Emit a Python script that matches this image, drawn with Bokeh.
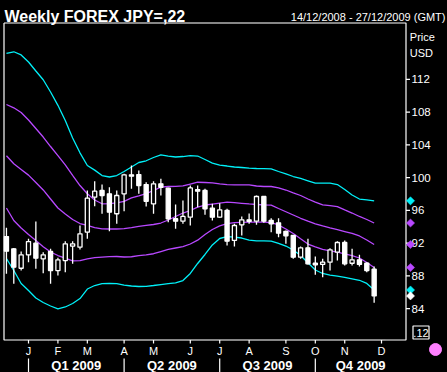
import pandas as pd
from bokeh.plotting import figure
from bokeh.models import Range1d, ColumnDataSource, GlobalInlineStyleSheet
from bokeh.core.properties import value
from bokeh.embed import file_html
from bokeh.resources import INLINE

# ---------------- data ----------------
origin = pd.Timestamp("2008-12-14")
week_dates = [d.strftime("%Y-%m-%d") for d in pd.date_range("2008-12-17", periods=51, freq="7D")]

open_ = [92.80, 91.30, 88.93, 90.57, 91.99, 90.08, 90.97, 88.65, 89.87, 91.62,
         91.50, 93.33, 97.60, 98.42, 98.02, 95.58, 98.02, 100.34, 100.37, 99.15,
         96.80, 99.24, 98.70, 94.97, 94.67, 95.16, 98.54, 98.42, 96.26, 95.16,
         95.98, 92.32, 94.23, 94.84, 94.67, 97.69, 94.76, 94.48, 93.44, 92.93,
         90.28, 91.42, 89.54, 89.39, 89.67, 90.89, 92.07, 89.54, 89.96, 89.54,
         88.81]
high = [93.87, 91.40, 90.97, 92.52, 94.64, 90.89, 91.30, 90.21, 92.23, 92.23,
        94.15, 98.42, 99.56, 99.15, 98.82, 98.42, 100.46, 101.47, 100.86, 99.43,
        99.56, 99.85, 98.75, 96.71, 97.20, 99.03, 99.03, 98.63, 96.80, 96.87,
        96.19, 94.36, 95.25, 95.61, 97.81, 97.75, 95.04, 95.04, 93.54, 93.00,
        91.58, 92.52, 90.36, 90.08, 91.38, 92.23, 92.32, 91.30, 90.57, 89.67,
        89.13]
low = [88.25, 87.03, 88.65, 89.67, 88.86, 88.32, 87.03, 88.04, 88.45, 89.47,
       91.22, 92.52, 96.50, 95.58, 93.45, 94.36, 95.89, 98.63, 98.02, 96.47,
       95.58, 97.81, 94.55, 93.74, 94.36, 94.15, 96.38, 95.45, 94.76, 95.10,
       91.71, 91.58, 92.93, 94.36, 94.23, 94.48, 93.33, 92.72, 91.91, 90.08,
       90.08, 89.40, 88.13, 87.84, 88.65, 89.87, 89.26, 89.26, 89.14, 88.45,
       84.73]
close = [91.01, 89.06, 90.57, 92.19, 90.16, 90.57, 88.65, 89.96, 91.91, 91.91,
         93.13, 97.48, 98.34, 97.81, 95.77, 97.81, 100.34, 100.17, 99.03, 97.11,
         99.24, 98.82, 94.97, 94.67, 95.25, 98.73, 98.34, 96.19, 95.16, 96.06,
         92.23, 94.15, 94.84, 94.64, 97.69, 94.67, 94.36, 93.21, 92.89, 90.28,
         91.42, 89.47, 89.35, 89.67, 91.18, 92.07, 89.47, 89.96, 89.39, 88.65,
         85.55]

band_upper2 = [115.15, 115.36, 114.97, 114.11, 113.01, 111.94, 110.45, 108.82, 106.97, 104.83,
               103.02, 101.47, 100.91, 100.25, 100.07, 100.25, 100.74, 101.29, 101.84, 102.05,
               102.45, 102.78, 102.63, 102.51, 102.57, 102.69, 102.63, 102.21, 101.77, 101.51,
               101.41, 101.29, 101.23, 101.16, 101.11, 101.08, 101.05, 100.74, 100.44, 100.13,
               99.89, 99.61, 99.31, 99.31, 99.31, 99.15, 98.54, 97.87, 97.38, 97.28,
               97.16]
band_upper1 = [108.92, 108.52, 107.94, 107.03, 105.99, 104.95, 103.79, 102.69, 101.56, 100.28,
               99.03, 98.02, 97.26, 96.80, 96.83, 96.92, 97.10, 97.51, 97.77, 98.05,
               98.42, 98.84, 98.91, 98.93, 98.99, 99.21, 99.43, 99.40, 99.34, 99.23,
               99.15, 99.12, 99.12, 99.12, 98.97, 98.91, 98.91, 98.74, 98.48, 98.13,
               97.81, 97.38, 96.99, 96.67, 96.57, 96.46, 96.06, 95.67, 95.25, 94.88,
               94.45]
band_middle = [102.66, 101.68, 100.99, 100.30, 99.40, 98.49, 97.38, 96.28, 95.55, 94.88,
               94.39, 94.15, 93.90, 93.74, 93.72, 93.72, 93.76, 93.88, 94.03, 94.15,
               94.27, 94.45, 94.82, 95.25, 95.67, 95.98, 96.39, 96.65, 96.77, 96.89,
               96.99, 96.93, 96.86, 96.78, 96.71, 96.67, 96.64, 96.22, 95.83, 95.43,
               95.03, 94.67, 94.36, 94.09, 93.85, 93.63, 93.41, 93.19, 92.87, 92.38,
               91.83]
band_lower1 = [96.28, 94.76, 93.84, 93.05, 92.32, 91.56, 90.91, 90.48, 90.17, 89.84,
               89.85, 90.08, 90.22, 90.29, 90.34, 90.36, 90.30, 90.33, 90.46, 90.55,
               90.70, 90.97, 91.22, 91.40, 91.58, 91.89, 92.36, 93.05, 93.66, 94.10,
               94.37, 94.51, 94.53, 94.55, 94.55, 94.55, 94.51, 94.21, 93.72, 93.17,
               92.52, 91.88, 91.55, 91.24, 91.06, 90.89, 90.69, 90.48, 90.18, 89.63,
               89.02]
band_lower2 = [90.12, 88.65, 87.07, 86.21, 85.30, 84.75, 84.32, 83.98, 84.20, 84.62,
               85.23, 86.39, 86.82, 87.04, 87.09, 87.04, 86.88, 86.76, 86.70, 86.72,
               86.82, 86.94, 87.04, 87.13, 87.43, 88.29, 89.51, 90.61, 91.77, 92.56,
               92.78, 92.74, 92.62, 92.36, 92.28, 92.26, 92.23, 91.97, 91.64, 91.16,
               90.48, 89.59, 88.71, 88.29, 88.09, 87.96, 87.82, 87.64, 87.46, 87.07,
               86.27]

month_dates = ["2009-01-07", "2009-02-04", "2009-03-04", "2009-04-08", "2009-05-06", "2009-06-10",
               "2009-07-08", "2009-08-05", "2009-09-09", "2009-10-07", "2009-11-04", "2009-12-09"]
month_labels = ["J", "F", "M", "A", "M", "J", "J", "A", "S", "O", "N", "D"]
quarter_starts = ["2009-01-07", "2009-04-08", "2009-07-08", "2009-10-07"]
quarter_labels = ["Q1 2009", "Q2 2009", "Q3 2009", "Q4 2009"]
price_ticks = [84, 88, 92, 96, 100, 104, 108, 112]

title_text = "Weekly FOREX JPY=,22"
range_text = "14/12/2008 - 27/12/2009 (GMT)"
unit_texts = ["Price", "USD"]
corner_text = ".12"

# ---------------- styling / layout ----------------
CYAN = "#00f0f8"
PURPLE = "#b848ff"
GREY = "#8c8c8c"
PINK = "#ff80ff"
FONT = "Liberation Sans"
W, H = 447, 372
X0, X1 = -2.656, 422.82      # canvas extent in days since origin
Y0, Y1 = 76.199, 121.620     # canvas extent in price


def day(d):
    return int((pd.Timestamp(d) - origin) / pd.Timedelta(days=1))


def px_x(px):
    return X0 + px / W * (X1 - X0)


def px_y(py):
    return Y1 - py / H * (Y1 - Y0)


BL, BR, BT, BB = px_x(3.5), px_x(405.5), px_y(22.5), px_y(339.5)   # plot box

x = [day(d) for d in week_dates]
src = ColumnDataSource(dict(
    x=x, h=high, l=low,
    top=[max(o, c) for o, c in zip(open_, close)],
    bot=[min(o, c) for o, c in zip(open_, close)],
    fill=["black" if c >= o else "white" for o, c in zip(open_, close)],
    u2=band_upper2, u1=band_upper1, m=band_middle, l1=band_lower1, l2=band_lower2,
))

p = figure(width=W, height=H, output_backend="svg", toolbar_location=None,
           x_range=Range1d(X0, X1), y_range=Range1d(Y0, Y1),
           x_axis_type=None, y_axis_type=None,
           background_fill_color="black", border_fill_color="black",
           min_border=0)
p.grid.visible = False
p.outline_line_color = None
p.stylesheets = [GlobalInlineStyleSheet(css="html,body{margin:0 !important;padding:0;background:#000;overflow:hidden;}")]

# plot box: white sides and corners, grey middle of top and bottom edges
p.multi_line(xs=[[BL, BR, BR, BL, BL]], ys=[[BT, BT, BB, BB, BT]], line_color="white", line_width=1.2)
p.multi_line(xs=[[px_x(23), px_x(385)], [px_x(23), px_x(385)]], ys=[[BT, BT], [BB, BB]],
             line_color=GREY, line_width=1.2)

# bands
for col, colr in [("u2", CYAN), ("u1", PURPLE), ("m", PURPLE), ("l1", PURPLE), ("l2", CYAN)]:
    p.line("x", col, source=src, line_color=colr, line_width=1.3)

# candles
p.segment("x", "h", "x", "l", source=src, line_color="white", line_width=1.3)
p.vbar(x="x", top="top", bottom="bot", width=3.9, source=src,
       fill_color="fill", line_color="white", line_width=1.3)

# price scale (right)
p.segment(x0=[BR] * len(price_ticks), y0=price_ticks, x1=[px_x(409.5)] * len(price_ticks), y1=price_ticks,
          line_color="white", line_width=1.2)
p.text(x=[px_x(411)] * len(price_ticks), y=price_ticks, text=[str(t) for t in price_ticks],
       text_color="white", text_font=value(FONT), text_font_size="11.5px",
       text_align="left", text_baseline="middle")
p.text(x=[px_x(409.3)] * 2, y=[px_y(36.7), px_y(52.3)], text=unit_texts,
       text_color="white", text_font=value(FONT), text_font_size="11px",
       text_align="left", text_baseline="alphabetic")

# month scale (bottom)
mx = [day(d) for d in month_dates]
p.segment(x0=mx, y0=[BB] * len(mx), x1=mx, y1=[px_y(343)] * len(mx), line_color="white", line_width=1.2)
p.text(x=mx, y=[px_y(350.5)] * len(mx), text=month_labels, text_color="white",
       text_font=value(FONT), text_font_size="11px", text_align="center", text_baseline="middle")

# quarter scale
qs = [day(d) for d in quarter_starts]
qe = qs[1:] + [BR]
qc = [(a + b) / 2 for a, b in zip(qs, qe)]
p.segment(x0=qs, y0=[px_y(358)] * len(qs), x1=qs, y1=[px_y(372)] * len(qs), line_color="white", line_width=1.2)
p.text(x=qc, y=[px_y(365)] * len(qc), text=quarter_labels, text_color="white",
       text_font=value(FONT), text_font_size="13px", text_font_style="bold",
       text_align="center", text_baseline="middle")

# header
p.text(x=[px_x(4)], y=[px_y(16.3)], text=[title_text], text_color="white", text_font=value(FONT),
       text_font_size="16px", text_font_style="bold", text_align="left", text_baseline="alphabetic")
p.text(x=[px_x(445)], y=[px_y(16.5)], text=[range_text], text_color="white", text_font=value(FONT),
       text_font_size="11px", text_align="right", text_baseline="alphabetic")

# last-value markers
last_vals = [band_upper2[-1], band_upper1[-1], band_middle[-1], band_lower1[-1], band_lower2[-1], close[-1]]
last_cols = [CYAN, PURPLE, PURPLE, PURPLE, CYAN, "white"]
p.scatter(x=[px_x(410)] * len(last_vals), y=last_vals, marker="square", angle=0.785398,
          size=5.8, fill_color=last_cols, line_color=last_cols, line_width=0.5)

# corner box and dot
p.quad(left=[px_x(412.5)], right=[px_x(428.5)], top=[px_y(325.5)], bottom=[px_y(338.5)],
       fill_color="black", line_color="white", line_width=1.2)
p.text(x=[px_x(420.5)], y=[px_y(332.3)], text=[corner_text], text_color="white", text_font=value(FONT),
       text_font_size="11px", text_align="center", text_baseline="middle")
p.scatter(x=[px_x(435)], y=[px_y(349)], marker="circle", size=12, fill_color=PINK, line_color=PINK)

open("out.html", "w").write(file_html(p, INLINE))
